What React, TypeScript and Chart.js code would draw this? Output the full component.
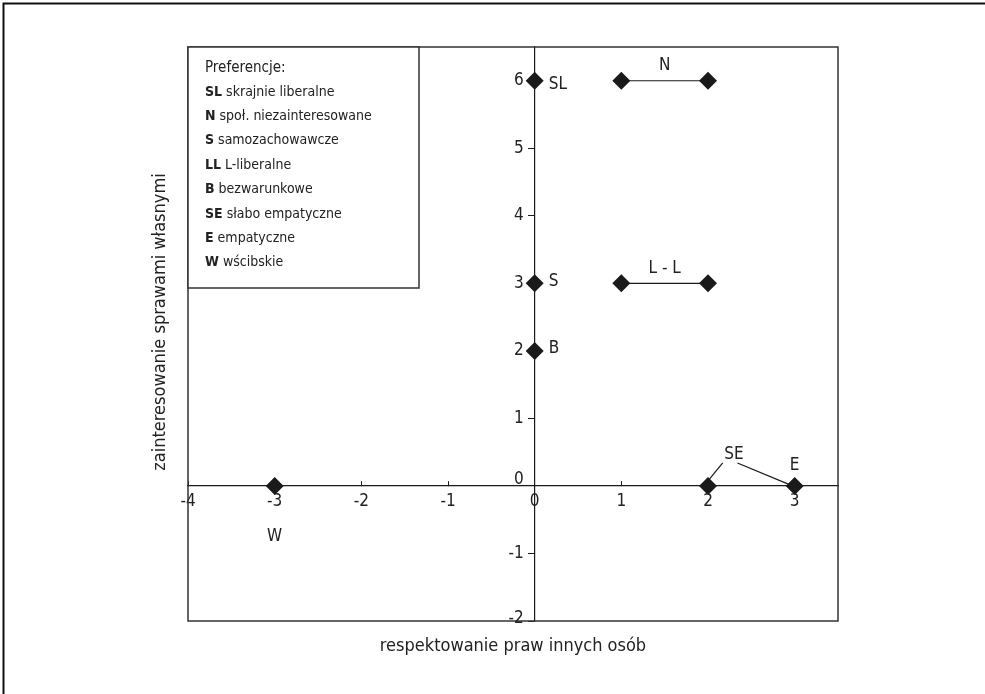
import React, { useEffect, useRef } from "react";
import { Chart, registerables } from "chart.js";

Chart.register(...registerables);

// ---- data ----
const singleNames = ["SL", "S", "B", "SE", "E", "W"];
const singleX = [0, 0, 0, 2, 3, -3];
const singleY = [6, 3, 2, 0, 0, 0];

const nPairX = [1, 2];
const nPairY = [6, 6];
const llPairX = [1, 2];
const llPairY = [3, 3];

// leader lines from the "SE" label to the two points
const seLeaderAX = [2.17, 1.99];
const seLeaderAY = [0.34, 0.06];
const seLeaderBX = [2.34, 2.94];
const seLeaderBY = [0.34, 0.02];

const xTickValues = [-4, -3, -2, -1, 0, 1, 2, 3];
const yTickValues = [-2, -1, 0, 1, 2, 3, 4, 5, 6];

const legendTitle = "Preferencje:";
const legendCodes = ["SL", "N", "S", "LL", "B", "SE", "E", "W"];
const legendNames = [
  "skrajnie liberalne",
  "społ. niezainteresowane",
  "samozachowawcze",
  "L-liberalne",
  "bezwarunkowe",
  "słabo empatyczne",
  "empatyczne",
  "wścibskie",
];

const xTitle = "respektowanie praw innych osób";
const yTitle = "zainteresowanie sprawami własnymi";

const FONT = '"Liberation Sans Narrow", "DejaVu Sans Condensed", "Roboto Condensed", sans-serif';
const INK = "#1a1a1a";
const TEXT = "#222222";

const toPts = (xs: number[], ys: number[]) => xs.map((x, i) => ({ x, y: ys[i] }));

export default function App() {
  const ref = useRef<HTMLCanvasElement>(null);

  useEffect(() => {
    if (!ref.current) return;

    const decor = {
      id: "decor",
      afterDraw(chart: any) {
        const ctx = chart.ctx as CanvasRenderingContext2D;
        const a = chart.chartArea;
        const xs = chart.scales.x;
        const ys = chart.scales.y;
        ctx.save();
        // outer frame (top + left edges visible)
        ctx.strokeStyle = "#111";
        ctx.lineWidth = 2;
        ctx.beginPath();
        ctx.moveTo(3.5, 1000);
        ctx.lineTo(3.5, 3.5);
        ctx.lineTo(1000, 3.5);
        ctx.stroke();

        // plot frame
        ctx.strokeStyle = "#333";
        ctx.lineWidth = 1.5;
        ctx.strokeRect(a.left, a.top, a.right - a.left, a.bottom - a.top);

        // legend box
        const lw = 231, lh = 241;
        ctx.fillStyle = "#fff";
        ctx.fillRect(a.left, a.top, lw, lh);
        ctx.strokeRect(a.left, a.top, lw, lh);
        ctx.fillStyle = TEXT;
        ctx.textBaseline = "middle";
        ctx.textAlign = "left";
        const lx = a.left + 17;
        ctx.font = `15px ${FONT}`;
        ctx.fillText(legendTitle, lx, a.top + 21);
        legendCodes.forEach((code, i) => {
          const y = a.top + 45 + i * 24.4;
          ctx.font = `bold 14px ${FONT}`;
          ctx.fillText(code, lx, y);
          const w = ctx.measureText(code).width + 4;
          ctx.font = `14px ${FONT}`;
          ctx.fillText(legendNames[i], lx + w, y);
        });

        const px = (v: number) => xs.getPixelForValue(v);
        const py = (v: number) => ys.getPixelForValue(v);

        // y tick labels, right-aligned left of the axis
        ctx.font = `17px ${FONT}`;
        ctx.fillStyle = TEXT;
        ctx.textAlign = "right";
        const axisX = px(0);
        ys.ticks.forEach((t: any) => {
          const off = t.value === 0 ? -6 : t.value === -2 ? -2 : 0;
          ctx.fillText(String(t.value), axisX - 11, py(t.value) + off);
        });

        // point labels
        ctx.font = `17px ${FONT}`;
        singleNames.forEach((name, i) => {
          const x = px(singleX[i]);
          const y = py(singleY[i]);
          if (name === "SL" || name === "S" || name === "B") {
            ctx.textAlign = "left";
            ctx.fillText(name, x + 14, y + (name === "SL" ? 4 : -2));
          } else if (name === "SE") {
            ctx.textAlign = "center";
            ctx.fillText(name, px(2.3), py(0.47));
          } else if (name === "E") {
            ctx.textAlign = "center";
            ctx.fillText(name, x, y - 20);
          } else if (name === "W") {
            ctx.textAlign = "center";
            ctx.fillText(name, x, y + 51);
          }
        });
        ctx.textAlign = "center";
        ctx.fillText("N", (px(nPairX[0]) + px(nPairX[1])) / 2, py(nPairY[0]) - 15);
        ctx.fillText("L - L", (px(llPairX[0]) + px(llPairX[1])) / 2, py(llPairY[0]) - 15);

        // axis titles
        ctx.font = `18px ${FONT}`;
        ctx.textAlign = "center";
        ctx.fillText(xTitle, (a.left + a.right) / 2, a.bottom + 25);
        ctx.save();
        ctx.translate(160, (a.top + a.bottom) / 2 - 12);
        ctx.rotate(-Math.PI / 2);
        ctx.fillText(yTitle, 0, 0);
        ctx.restore();
        ctx.restore();
      },
    };

    const pointDs = (data: any[], showLine: boolean) => ({
      data,
      showLine,
      borderColor: INK,
      borderWidth: 1.2,
      backgroundColor: INK,
      pointStyle: "rectRot",
      pointRadius: 9,
      pointBackgroundColor: INK,
      pointBorderColor: INK,
      pointBorderWidth: 0,
    });
    const leaderDs = (data: any[]) => ({
      data,
      showLine: true,
      borderColor: INK,
      borderWidth: 1.2,
      pointRadius: 0,
    });

    const chart = new Chart(ref.current, {
      type: "scatter",
      data: {
        datasets: [
          leaderDs(toPts(seLeaderAX, seLeaderAY)),
          leaderDs(toPts(seLeaderBX, seLeaderBY)),
          pointDs(toPts(nPairX, nPairY), true),
          pointDs(toPts(llPairX, llPairY), true),
          pointDs(toPts(singleX, singleY), false),
        ] as any,
      },
      options: {
        animation: false,
        responsive: false,
        devicePixelRatio: 1,
        layout: { padding: { left: 188, right: 147, top: 47, bottom: 73 } },
        plugins: { legend: { display: false }, tooltip: { enabled: false } },
        scales: {
          x: {
            type: "linear",
            min: -4,
            max: 3.5,
            position: { y: 0 } as any,
            afterFit: (s: any) => { s.height = 0; },
            afterBuildTicks: (s: any) => { s.ticks = xTickValues.map((v) => ({ value: v })); },
            grid: { display: true, drawOnChartArea: false, drawTicks: true, tickLength: -5, color: INK, lineWidth: 1 },
            border: { display: true, color: INK, width: 1.2 },
            ticks: { color: TEXT, font: { family: FONT, size: 17 }, padding: 10, maxRotation: 0, autoSkip: false },
          },
          y: {
            type: "linear",
            min: -2,
            max: 6.5,
            position: { x: 0 } as any,
            afterFit: (s: any) => { s.width = 0; },
            afterBuildTicks: (s: any) => { s.ticks = yTickValues.map((v) => ({ value: v })); },
            grid: { display: true, drawOnChartArea: false, drawTicks: true, tickLength: 6, color: INK, lineWidth: 1 },
            border: { display: true, color: INK, width: 1.2 },
            ticks: { display: false, autoSkip: false },
          },
        },
      } as any,
      plugins: [decor],
    });
    return () => chart.destroy();
  }, []);

  return (
    <div style={{ position: "fixed", left: 0, top: 0, width: 985, height: 694, background: "#fff" }}>
      <canvas ref={ref} width={985} height={694} style={{ display: "block" }} />
    </div>
  );
}
